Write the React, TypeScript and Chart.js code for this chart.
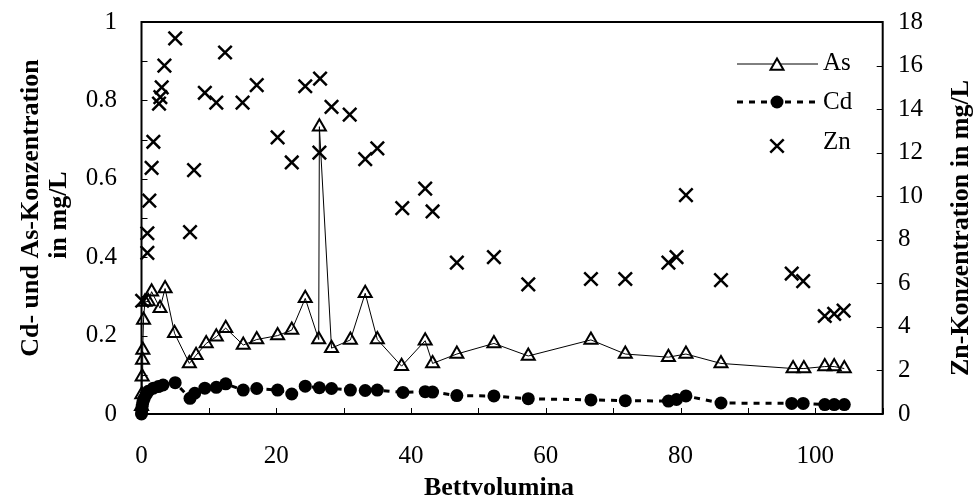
import React, { useEffect, useRef } from 'react';
import { Chart, registerables } from 'chart.js';

Chart.register(...registerables);

// ---- data ----
const asX = [0, 0.05, 0.1, 0.15, 0.2, 0.3, 0.5, 1.0, 1.5, 2.75, 3.5, 4.9, 7.1, 8.1, 9.6, 11.1, 12.5, 15.1, 17.1, 20.2, 22.3, 24.3, 26.3, 26.4, 28.2, 31.0, 33.2, 35.0, 38.6, 42.1, 43.2, 46.8, 52.3, 57.4, 66.7, 71.8, 78.2, 80.8, 86.0, 96.7, 98.3, 101.4, 102.8, 104.3];
const asY = [0.02, 0.05, 0.095, 0.138, 0.163, 0.24, 0.286, 0.287, 0.312, 0.27, 0.32, 0.206, 0.129, 0.15, 0.18, 0.197, 0.219, 0.176, 0.19, 0.2, 0.214, 0.295, 0.19, 0.733, 0.168, 0.189, 0.308, 0.19, 0.122, 0.187, 0.129, 0.153, 0.18, 0.148, 0.189, 0.153, 0.145, 0.153, 0.129, 0.116, 0.116, 0.121, 0.121, 0.116];

const cdX = [0, 0.05, 0.1, 0.2, 0.4, 0.7, 1.0, 1.75, 2.5, 3.2, 5.0, 7.2, 7.9, 9.4, 11.1, 12.5, 15.1, 17.1, 20.2, 22.3, 24.3, 26.4, 28.2, 31.0, 33.2, 35.0, 38.8, 42.1, 43.2, 46.8, 52.3, 57.4, 66.7, 71.8, 78.2, 79.4, 80.8, 86.0, 96.5, 98.2, 101.4, 102.8, 104.3];
const cdY = [0.0, 0.01, 0.02, 0.03, 0.04, 0.05, 0.058, 0.066, 0.07, 0.074, 0.08, 0.04, 0.053, 0.066, 0.068, 0.077, 0.061, 0.065, 0.061, 0.051, 0.071, 0.067, 0.065, 0.061, 0.06, 0.061, 0.055, 0.057, 0.056, 0.047, 0.046, 0.039, 0.036, 0.034, 0.033, 0.037, 0.046, 0.028, 0.027, 0.027, 0.024, 0.024, 0.024];

const znX = [0.1, 0.87, 0.87, 1.16, 1.5, 1.76, 2.6, 2.8, 3.0, 3.4, 5.0, 7.2, 7.8, 9.4, 11.1, 12.4, 15.0, 17.1, 20.2, 22.3, 24.3, 26.4, 26.5, 28.2, 30.9, 33.2, 35.0, 38.7, 42.1, 43.2, 46.8, 52.3, 57.4, 66.7, 71.8, 78.2, 79.4, 80.8, 86.0, 96.5, 98.2, 101.4, 102.8, 104.2];
const znY = [5.2, 7.4, 8.3, 9.8, 11.3, 12.5, 14.25, 14.55, 15.0, 16.0, 17.25, 8.35, 11.2, 14.75, 14.3, 16.6, 14.3, 15.1, 12.7, 11.55, 15.05, 12.0, 15.4, 14.1, 13.75, 11.7, 12.2, 9.45, 10.35, 9.3, 6.95, 7.2, 5.95, 6.2, 6.2, 6.95, 7.2, 10.05, 6.15, 6.45, 6.1, 4.5, 4.6, 4.75];

const seriesNames = ['As', 'Cd', 'Zn'];
const xTitle = 'Bettvolumina';
const yTitleLines = ['Cd- und As-Konzentration', 'in mg/L'];
const y2Title = 'Zn-Konzentration in mg/L';

const FAMILY = '"Liberation Serif", "Times New Roman", serif';

const pts = (xs: number[], ys: number[]) => xs.map((x, i) => ({ x, y: ys[i] }));

export default function App() {
  const ref = useRef<HTMLCanvasElement>(null);

  useEffect(() => {
    const canvas = ref.current;
    if (!canvas) return;

    const decor = {
      id: 'decor',
      beforeDatasetsDraw(chart: any) {
        const { ctx, chartArea: a, scales } = chart;
        ctx.save();
        ctx.strokeStyle = '#000';
        ctx.lineWidth = 1;
        ctx.beginPath();
        for (let v = 0; v <= 110; v += 10) {
          const px = Math.round(scales.x.getPixelForValue(v)) + 0.5;
          ctx.moveTo(px, a.bottom);
          ctx.lineTo(px, a.bottom - 6);
        }
        for (let i = 0; i <= 10; i++) {
          const py = Math.round(scales.y.getPixelForValue(i / 10)) + 0.5;
          ctx.moveTo(a.left, py);
          ctx.lineTo(a.left + 6, py);
        }
        for (let v = 0; v <= 18; v += 2) {
          const py = Math.round(scales.y2.getPixelForValue(v)) + 0.5;
          ctx.moveTo(a.right, py);
          ctx.lineTo(a.right - 6, py);
        }
        ctx.stroke();
        ctx.lineWidth = 2;
        ctx.strokeRect(a.left, a.top, a.right - a.left, a.bottom - a.top);
        ctx.restore();
      },
      afterDraw(chart: any) {
        const { ctx } = chart;
        ctx.save();
        ctx.fillStyle = '#000';
        ctx.strokeStyle = '#000';
        // axis titles
        ctx.font = `bold 26px ${FAMILY}`;
        ctx.textAlign = 'center';
        ctx.textBaseline = 'middle';
        const rot = (txt: string, x: number, y: number) => {
          ctx.save();
          ctx.translate(x, y);
          ctx.rotate(-Math.PI / 2);
          ctx.fillText(txt, 0, 0);
          ctx.restore();
        };
        rot(yTitleLines[0], 31, 208);
        rot(yTitleLines[1], 59.5, 215);
        rot(y2Title, 961, 228);
        ctx.textBaseline = 'alphabetic';
        ctx.fillText(xTitle, 499, 495);

        // legend
        const lx0 = 737, lx1 = 818, mx = 777, tx = 823;
        ctx.font = `25px ${FAMILY}`;
        ctx.textAlign = 'left';
        ctx.textBaseline = 'middle';
        // As
        ctx.lineWidth = 1;
        ctx.beginPath();
        ctx.moveTo(lx0, 64);
        ctx.lineTo(lx1, 64);
        ctx.stroke();
        {
          const r = 7.5, cy = 66;
          ctx.lineWidth = 2;
          ctx.fillStyle = '#fff';
          ctx.beginPath();
          ctx.moveTo(mx, cy - r);
          ctx.lineTo(mx + Math.sin((2 * Math.PI) / 3) * r, cy + r / 2);
          ctx.lineTo(mx - Math.sin((2 * Math.PI) / 3) * r, cy + r / 2);
          ctx.closePath();
          ctx.fill();
          ctx.stroke();
          ctx.fillStyle = '#000';
        }
        ctx.fillText(seriesNames[0], tx, 63);
        // Cd
        ctx.lineWidth = 3;
        ctx.setLineDash([6, 6]);
        ctx.beginPath();
        ctx.moveTo(lx0, 102);
        ctx.lineTo(lx1, 102);
        ctx.stroke();
        ctx.setLineDash([]);
        ctx.beginPath();
        ctx.arc(mx, 102, 6.5, 0, Math.PI * 2);
        ctx.fill();
        ctx.fillText(seriesNames[1], tx, 102);
        // Zn
        {
          const r = 9.5 * Math.SQRT1_2, cy = 146;
          ctx.lineWidth = 2.5;
          ctx.beginPath();
          ctx.moveTo(mx - r, cy - r);
          ctx.lineTo(mx + r, cy + r);
          ctx.moveTo(mx + r, cy - r);
          ctx.lineTo(mx - r, cy + r);
          ctx.stroke();
        }
        ctx.fillText(seriesNames[2], tx, 142);
        ctx.restore();
      },
    };

    const tickFont = { family: FAMILY, size: 25 };
    const fitV = (w: number) => (s: any) => {
      s.width = w;
      s.paddingTop = 0;
      s.paddingBottom = 0;
    };

    const chart = new Chart(canvas, {
      type: 'scatter',
      data: {
        datasets: [
          {
            label: seriesNames[0],
            data: pts(asX, asY),
            yAxisID: 'y',
            showLine: true,
            borderColor: '#000',
            borderWidth: 1,
            pointStyle: 'triangle',
            pointRadius: 7.5,
            pointBorderWidth: 2,
            pointBorderColor: '#000',
            pointBackgroundColor: 'rgba(0,0,0,0)',
            clip: false as any,
          },
          {
            label: seriesNames[1],
            data: pts(cdX, cdY),
            yAxisID: 'y',
            showLine: true,
            borderColor: '#000',
            borderWidth: 3,
            borderDash: [6, 6],
            pointStyle: 'circle',
            pointRadius: 6.5,
            pointBorderWidth: 0,
            pointBackgroundColor: '#000',
            clip: false as any,
          },
          {
            label: seriesNames[2],
            data: pts(znX, znY),
            yAxisID: 'y2',
            showLine: false,
            pointStyle: 'crossRot',
            pointRadius: 9.5,
            pointBorderWidth: 2.5,
            pointBorderColor: '#000',
            pointBackgroundColor: '#000',
            clip: false as any,
          },
        ],
      },
      options: {
        responsive: false,
        animation: false,
        devicePixelRatio: 1,
        layout: { autoPadding: false, padding: { top: 22, left: 0, right: 0, bottom: 0 } },
        plugins: { legend: { display: false }, tooltip: { enabled: false } },
        scales: {
          x: {
            type: 'linear',
            position: 'bottom',
            min: 0,
            max: 110,
            ticks: {
              stepSize: 20,
              padding: 27,
              color: '#000',
              font: tickFont,
              maxRotation: 0,
              autoSkip: false,
              callback: (v: any) => (Number(v) % 20 === 0 ? String(v) : ''),
            },
            grid: { display: false, drawTicks: false },
            border: { display: false },
            afterFit: (s: any) => {
              s.height = 83;
              s.paddingLeft = 0;
              s.paddingRight = 0;
            },
          },
          y: {
            type: 'linear',
            position: 'left',
            min: 0,
            max: 1,
            ticks: {
              stepSize: 0.2,
              padding: 24.5,
              color: '#000',
              font: tickFont,
              callback: (v: any) => String(Math.round(Number(v) * 10) / 10),
            },
            grid: { display: false, drawTicks: false },
            border: { display: false },
            afterFit: fitV(141.5),
          },
          y2: {
            type: 'linear',
            position: 'right',
            min: 0,
            max: 18,
            ticks: { stepSize: 2, padding: 15.3, color: '#000', font: tickFont },
            grid: { display: false, drawTicks: false },
            border: { display: false },
            afterFit: fitV(91.3),
          },
        },
      },
      plugins: [decor],
    } as any);

    return () => chart.destroy();
  }, []);

  return (
    <div style={{ position: 'fixed', left: 0, top: 0, width: 974, height: 497, background: '#fff' }}>
      <canvas ref={ref} width={974} height={497} style={{ display: 'block', width: 974, height: 497 }} />
    </div>
  );
}
